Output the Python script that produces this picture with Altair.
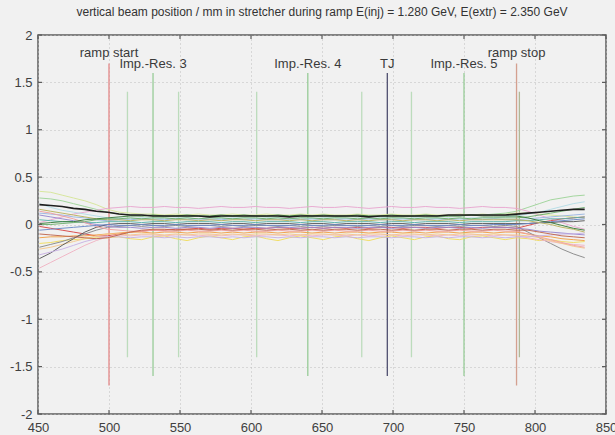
import altair as alt
import pandas as pd

# sample positions (x) shared by all traces
X = list(range(451, 836, 8))  # 49 samples

T_BLACK = [0.21,0.20,0.19,0.17,0.16,0.14,0.13,
    0.11,0.10,0.10,0.09,0.09,0.09, 0.09,0.09,0.08,0.09,0.09,0.09, 0.09,0.09,0.09,0.08,0.09,0.09,
    0.09,0.09,0.09,0.09,0.08,0.09, 0.09,0.09,0.09,0.09,0.09,0.10, 0.10,0.10,0.10,0.10,0.10,0.11,
    0.12,0.13,0.14,0.15,0.16,0.16]
T_YGREEN = [0.35,0.34,0.31,0.28,0.25,0.21,0.16,
    0.13,0.12,0.11,0.11,0.10,0.11, 0.10,0.11,0.10,0.10,0.11,0.10, 0.10,0.11,0.10,0.10,0.11,0.10,
    0.11,0.10,0.10,0.11,0.10,0.10, 0.11,0.10,0.10,0.11,0.10,0.10, 0.11,0.10,0.11,0.10,0.11,0.12,
    0.12,0.11,0.10,0.09,0.08,0.07]
T_LGREEN = [0.28,0.27,0.25,0.22,0.19,0.16,0.13,
    0.11,0.10,0.09,0.09,0.08,0.09, 0.08,0.09,0.08,0.08,0.09,0.08, 0.09,0.08,0.08,0.09,0.08,0.09,
    0.08,0.08,0.09,0.08,0.09,0.08, 0.08,0.09,0.08,0.09,0.08,0.09, 0.09,0.10,0.10,0.11,0.12,0.14,
    0.18,0.22,0.26,0.28,0.30,0.31]
T_PINKTOP = [0.02,0.05,0.08,0.11,0.13,0.15,0.17,
    0.18,0.19,0.18,0.18,0.19,0.18, 0.18,0.17,0.18,0.19,0.18,0.18, 0.19,0.18,0.18,0.17,0.18,0.19,
    0.18,0.18,0.19,0.18,0.17,0.18, 0.19,0.18,0.18,0.19,0.18,0.18, 0.17,0.18,0.19,0.18,0.18,0.17,
    0.14,0.10,0.06,0.02,-0.02,-0.05]
T_DGREEN = [0.01,0.02,0.03,0.03,0.05,0.06,0.07,
    0.08,0.09,0.09,0.10,0.09,0.09, 0.10,0.09,0.09,0.10,0.09,0.10, 0.09,0.09,0.10,0.09,0.10,0.09,
    0.10,0.09,0.09,0.10,0.09,0.09, 0.10,0.09,0.09,0.10,0.09,0.09, 0.09,0.10,0.09,0.09,0.09,0.09,
    0.07,0.04,0.02,-0.01,-0.04,-0.06]
T_LBLUE = [0.12,0.11,0.10,0.08,0.07,0.05,0.04,
    0.05,0.05,0.06,0.05,0.05,0.06, 0.05,0.06,0.05,0.05,0.06,0.05, 0.06,0.05,0.05,0.06,0.05,0.06,
    0.05,0.05,0.06,0.05,0.06,0.05, 0.05,0.06,0.05,0.05,0.06,0.05, 0.06,0.05,0.05,0.06,0.05,0.05,
    0.06,0.07,0.08,0.09,0.10,0.11]
T_RED = [-0.02,-0.04,-0.06,-0.08,-0.10,-0.12,-0.12,
    -0.10,-0.08,-0.07,-0.06,-0.06,-0.05, -0.05,-0.04,-0.05,-0.04,-0.04,-0.05, -0.04,-0.04,-0.03,-0.04,-0.04,-0.03,
    -0.04,-0.03,-0.04,-0.03,-0.04,-0.03, -0.03,-0.04,-0.03,-0.03,-0.04,-0.03, -0.03,-0.04,-0.03,-0.03,-0.03,-0.04,
    -0.01,0.02,0.04,0.06,0.07,0.08]
T_ORANGE = [-0.14,-0.13,-0.13,-0.12,-0.12,-0.11,-0.10,
    -0.09,-0.08,-0.08,-0.09,-0.08,-0.08, -0.09,-0.08,-0.08,-0.09,-0.08,-0.09, -0.08,-0.08,-0.09,-0.08,-0.08,-0.09,
    -0.08,-0.09,-0.08,-0.08,-0.09,-0.08, -0.08,-0.09,-0.08,-0.09,-0.08,-0.08, -0.09,-0.08,-0.08,-0.09,-0.08,-0.08,
    -0.10,-0.12,-0.13,-0.15,-0.16,-0.17]
T_YELLOW = [-0.20,-0.19,-0.17,-0.16,-0.15,-0.14,-0.14,
    -0.13,-0.15,-0.16,-0.13,-0.12,-0.15, -0.17,-0.14,-0.12,-0.14,-0.16,-0.13, -0.12,-0.15,-0.17,-0.14,-0.12,-0.14,
    -0.16,-0.13,-0.12,-0.15,-0.17,-0.14, -0.12,-0.14,-0.16,-0.13,-0.12,-0.15, -0.16,-0.13,-0.12,-0.14,-0.16,-0.14,
    -0.15,-0.17,-0.16,-0.18,-0.19,-0.18]
T_GRAY = [-0.24,-0.21,-0.18,-0.14,-0.10,-0.06,-0.03,
    -0.02,-0.01,-0.02,-0.01,-0.02,-0.01, -0.02,-0.01,-0.01,-0.02,-0.01,-0.02, -0.01,-0.01,-0.02,-0.01,-0.02,-0.01,
    -0.02,-0.01,-0.01,-0.02,-0.01,-0.02, -0.01,-0.02,-0.01,-0.01,-0.02,-0.01, -0.02,-0.01,-0.01,-0.02,-0.01,-0.02,
    -0.08,-0.14,-0.20,-0.26,-0.31,-0.35]
T_PINKLOW = [-0.46,-0.40,-0.34,-0.28,-0.22,-0.17,-0.13,
    -0.11,-0.12,-0.11,-0.11,-0.12,-0.11, -0.11,-0.12,-0.11,-0.12,-0.11,-0.11, -0.12,-0.11,-0.11,-0.12,-0.11,-0.12,
    -0.11,-0.11,-0.12,-0.11,-0.12,-0.11, -0.11,-0.12,-0.11,-0.11,-0.12,-0.11, -0.12,-0.11,-0.11,-0.12,-0.11,-0.12,
    -0.14,-0.16,-0.18,-0.20,-0.21,-0.22]
T_TEAL = [0.05,0.04,0.03,0.03,0.02,0.02,0.03,
    0.03,0.03,0.02,0.03,0.03,0.02, 0.03,0.03,0.03,0.02,0.03,0.03, 0.02,0.03,0.03,0.03,0.02,0.03,
    0.03,0.02,0.03,0.03,0.03,0.02, 0.03,0.03,0.02,0.03,0.03,0.03, 0.02,0.03,0.03,0.03,0.03,0.04,
    0.04,0.05,0.06,0.06,0.07,0.08]
T_PURPLE = [0.10,0.08,0.06,0.04,0.02,0.00,-0.02,
    -0.03,-0.03,-0.04,-0.03,-0.03,-0.04, -0.03,-0.03,-0.04,-0.03,-0.04,-0.03, -0.03,-0.04,-0.03,-0.03,-0.04,-0.03,
    -0.04,-0.03,-0.03,-0.04,-0.03,-0.03, -0.04,-0.03,-0.03,-0.04,-0.03,-0.03, -0.04,-0.03,-0.04,-0.03,-0.03,-0.04,
    -0.05,-0.07,-0.08,-0.09,-0.10,-0.11]
T_LORANGE = [-0.26,-0.24,-0.21,-0.18,-0.15,-0.12,-0.10,
    -0.10,-0.11,-0.10,-0.10,-0.11,-0.10, -0.11,-0.10,-0.10,-0.11,-0.10,-0.11, -0.10,-0.10,-0.11,-0.10,-0.11,-0.10,
    -0.10,-0.11,-0.10,-0.11,-0.10,-0.10, -0.11,-0.10,-0.10,-0.11,-0.10,-0.11, -0.10,-0.10,-0.11,-0.10,-0.11,-0.11,
    -0.12,-0.14,-0.17,-0.20,-0.23,-0.25]
T_DGRAY = [-0.36,-0.30,-0.22,-0.15,-0.08,-0.03,0.00,
    0.01,0.01,0.00,0.01,0.01,0.00, 0.01,0.01,0.01,0.00,0.01,0.01, 0.00,0.01,0.01,0.01,0.00,0.01,
    0.01,0.00,0.01,0.01,0.01,0.00, 0.01,0.01,0.00,0.01,0.01,0.01, 0.00,0.01,0.01,0.01,0.01,0.01,
    0.01,0.02,0.02,0.03,0.03,0.04]
T_CYAN = [0.22,0.18,0.15,0.13,0.11,0.09,0.07,
    0.07,0.06,0.07,0.07,0.06,0.07, 0.07,0.06,0.07,0.06,0.07,0.07, 0.06,0.07,0.07,0.06,0.07,0.06,
    0.07,0.07,0.06,0.07,0.06,0.07, 0.07,0.06,0.07,0.07,0.06,0.07, 0.06,0.07,0.07,0.07,0.08,0.09,
    0.11,0.13,0.16,0.19,0.22,0.24]
T_SALMON = [0.14,0.12,0.09,0.06,0.02,-0.02,-0.05,
    -0.06,-0.07,-0.07,-0.06,-0.07,-0.07, -0.06,-0.07,-0.07,-0.06,-0.07,-0.06, -0.07,-0.07,-0.06,-0.07,-0.07,-0.06,
    -0.07,-0.06,-0.07,-0.07,-0.06,-0.07, -0.07,-0.06,-0.07,-0.06,-0.07,-0.07, -0.06,-0.07,-0.07,-0.06,-0.07,-0.07,
    -0.10,-0.13,-0.16,-0.19,-0.22,-0.24]
T_BLUE = [-0.06,-0.05,-0.04,-0.03,-0.02,-0.01,0.00,
    -0.01,-0.01,0.00,-0.01,-0.01,0.00, -0.01,-0.01,-0.01,0.00,-0.01,-0.01, 0.00,-0.01,-0.01,-0.01,0.00,-0.01,
    -0.01,0.00,-0.01,-0.01,-0.01,0.00, -0.01,-0.01,0.00,-0.01,-0.01,-0.01, 0.00,-0.01,-0.01,0.00,0.00,0.00,
    0.01,0.02,0.03,0.04,0.05,0.06]
T_LAVENDER = [-0.32,-0.29,-0.26,-0.22,-0.18,-0.15,-0.13,
    -0.13,-0.14,-0.13,-0.13,-0.14,-0.13, -0.14,-0.13,-0.13,-0.14,-0.13,-0.14, -0.13,-0.13,-0.14,-0.13,-0.14,-0.13,
    -0.13,-0.14,-0.13,-0.14,-0.13,-0.13, -0.14,-0.13,-0.13,-0.14,-0.13,-0.14, -0.13,-0.13,-0.14,-0.13,-0.14,-0.13,
    -0.13,-0.12,-0.11,-0.10,-0.10,-0.09]
T_KHAKI = [0.16,0.14,0.12,0.10,0.08,0.06,0.05,
    0.05,0.04,0.05,0.05,0.04,0.05, 0.05,0.04,0.05,0.04,0.05,0.05, 0.04,0.05,0.05,0.04,0.05,0.04,
    0.05,0.05,0.04,0.05,0.04,0.05, 0.05,0.04,0.05,0.05,0.04,0.05, 0.04,0.05,0.05,0.05,0.05,0.05,
    0.04,0.02,0.00,-0.03,-0.05,-0.08]
T_BROWN = [-0.10,-0.11,-0.12,-0.13,-0.14,-0.15,-0.14,
    -0.11,-0.08,-0.06,-0.05,-0.05,-0.06, -0.05,-0.05,-0.06,-0.05,-0.06,-0.05, -0.05,-0.06,-0.05,-0.05,-0.06,-0.05,
    -0.06,-0.05,-0.05,-0.06,-0.05,-0.05, -0.06,-0.05,-0.06,-0.05,-0.05,-0.06, -0.05,-0.05,-0.06,-0.05,-0.05,-0.06,
    -0.06,-0.08,-0.10,-0.12,-0.13,-0.14]
T_MGREEN = [0.00,0.00,0.01,0.02,0.03,0.05,0.06,
    0.06,0.07,0.06,0.07,0.07,0.06, 0.07,0.06,0.07,0.07,0.06,0.07, 0.07,0.06,0.07,0.06,0.07,0.07,
    0.06,0.07,0.07,0.06,0.07,0.06, 0.07,0.07,0.06,0.07,0.07,0.06, 0.07,0.06,0.07,0.07,0.07,0.07,
    0.08,0.10,0.12,0.14,0.16,0.18]

TRACES = {
    "ygreen": T_YGREEN, "lgreen": T_LGREEN, "pinktop": T_PINKTOP, "lblue": T_LBLUE,
    "red": T_RED, "orange": T_ORANGE, "yellow": T_YELLOW, "gray": T_GRAY,
    "pinklow": T_PINKLOW, "teal": T_TEAL, "purple": T_PURPLE, "lorange": T_LORANGE,
    "dgray": T_DGRAY, "cyan": T_CYAN, "salmon": T_SALMON, "blue": T_BLUE,
    "lavender": T_LAVENDER, "khaki": T_KHAKI, "brown": T_BROWN, "mgreen": T_MGREEN,
    "dgreen": T_DGREEN,
}
TRACE_COLORS = {
    "ygreen": "#d6e69a", "lgreen": "#9fd49a", "pinktop": "#e8a8d0", "lblue": "#9cb6e2",
    "red": "#d84848", "orange": "#f0a048", "yellow": "#f0dc60", "gray": "#8a8a8a",
    "pinklow": "#f0b4c4", "teal": "#5cb4ac", "purple": "#9888d0", "lorange": "#f4c88c",
    "dgray": "#5a5a5a", "cyan": "#b4dce6", "salmon": "#f0a0a0", "blue": "#6c8ac8",
    "lavender": "#c8b2e4", "khaki": "#bcb460", "brown": "#c06850", "mgreen": "#70b070",
    "dgreen": "#3c7c3c",
}

# vertical marker lines
MARK_X = [500, 513, 531, 549, 604, 640, 678, 696, 713, 750, 787, 789]
MARK_HALF = [1.7, 1.4, 1.6, 1.4, 1.4, 1.6, 1.4, 1.6, 1.4, 1.6, 1.7, 1.4]
MARK_COLOR = ["#e48888", "#bcdcbc", "#98cc98", "#bcdcbc", "#bcdcbc", "#98cc98",
              "#bcdcbc", "#505070", "#bcdcbc", "#98cc98", "#d4a090", "#b0b898"]

LABELS = ["ramp start", "Imp.-Res. 3", "Imp.-Res. 4", "TJ", "Imp.-Res. 5", "ramp stop"]
LABEL_X = [500, 531, 640, 696, 750, 787]
LABEL_Y = [1.81, 1.69, 1.69, 1.69, 1.69, 1.81]

X_TICKS = [450, 500, 550, 600, 650, 700, 750, 800, 850]
Y_TICKS = [-2, -1.5, -1, -0.5, 0, 0.5, 1, 1.5, 2]

W, H = 568, 379
TICK = 4

rows = []
for name, vals in TRACES.items():
    for x, y in zip(X, vals):
        rows.append({"x": x, "y": y, "trace": name})
df = pd.DataFrame(rows)
df_black = pd.DataFrame({"x": X, "y": T_BLACK})

marks = pd.DataFrame({"x": MARK_X, "lo": [-h for h in MARK_HALF], "hi": MARK_HALF, "c": MARK_COLOR})
labels = pd.DataFrame({"x": LABEL_X, "y": LABEL_Y, "t": LABELS})
xt = pd.DataFrame({"x": X_TICKS})
yt = pd.DataFrame({"y": Y_TICKS})

xs = alt.Scale(domain=[450, 850], nice=False, zero=False)
ys = alt.Scale(domain=[-2, 2], nice=False, zero=False)

xaxis = alt.Axis(values=X_TICKS, title=None, grid=True, gridDash=[1, 3], gridColor="#bdbdbd",
                 domain=False, ticks=False, labelPadding=7, labelFontSize=13,
                 labelColor="#404040", labelFont="Liberation Sans", labelFlush=False)
yaxis = alt.Axis(values=Y_TICKS, title=None, grid=True, gridDash=[1, 3], gridColor="#bdbdbd",
                 domain=False, ticks=False, labelPadding=6, labelFontSize=13,
                 labelColor="#404040", labelFont="Liberation Sans",
                 labelExpr="'' + datum.value")

base_lines = alt.Chart(df).mark_line(strokeWidth=1, opacity=0.95).encode(
    x=alt.X("x:Q", scale=xs, axis=xaxis),
    y=alt.Y("y:Q", scale=ys, axis=yaxis),
    color=alt.Color("trace:N", scale=alt.Scale(domain=list(TRACE_COLORS.keys()),
                                                range=list(TRACE_COLORS.values())), legend=None),
    detail="trace:N",
)

black_line = alt.Chart(df_black).mark_line(strokeWidth=1.6, color="#1e1e1e").encode(
    x=alt.X("x:Q", scale=xs), y=alt.Y("y:Q", scale=ys)
)

rules = alt.Chart(marks).mark_rule(strokeWidth=1.3).encode(
    x=alt.X("x:Q", scale=xs),
    y=alt.Y("lo:Q", scale=ys),
    y2="hi:Q",
    color=alt.Color("c:N", scale=None),
)

texts = alt.Chart(labels).mark_text(fontSize=13, font="Liberation Sans", color="#3a3a3a",
                                    baseline="middle", align="center").encode(
    x=alt.X("x:Q", scale=xs), y=alt.Y("y:Q", scale=ys), text="t:N"
)

# inward tick marks on all four sides of the box
tick_style = dict(color="#5c5c5c", strokeWidth=1.2)
ticks_bottom = alt.Chart(xt).mark_rule(**tick_style).encode(
    x=alt.X("x:Q", scale=xs), y=alt.value(H), y2=alt.value(H - TICK))
ticks_top = alt.Chart(xt).mark_rule(**tick_style).encode(
    x=alt.X("x:Q", scale=xs), y=alt.value(0), y2=alt.value(TICK))
ticks_left = alt.Chart(yt).mark_rule(**tick_style).encode(
    y=alt.Y("y:Q", scale=ys), x=alt.value(0), x2=alt.value(TICK))
ticks_right = alt.Chart(yt).mark_rule(**tick_style).encode(
    y=alt.Y("y:Q", scale=ys), x=alt.value(W), x2=alt.value(W - TICK))

chart = alt.layer(rules, base_lines, black_line, texts,
                  ticks_bottom, ticks_top, ticks_left, ticks_right).properties(
    width=W, height=H,
    padding={"left": 38, "top": 35, "right": 9, "bottom": 21},
    autosize=alt.AutoSizeParams(type="none"),
    title=alt.TitleParams(
        "vertical beam position / mm in stretcher during ramp E(inj) = 1.280 GeV, E(extr) = 2.350 GeV",
        fontSize=12, fontWeight="normal", font="Liberation Sans", color="#333333",
        anchor="middle", offset=10,
    ),
).configure(background="#f1f1f1").configure_view(stroke="#5c5c5c", strokeWidth=1.5, fill="#f1f1f1")

chart.save("out.html", embed_options={"renderer": "svg", "actions": False})
